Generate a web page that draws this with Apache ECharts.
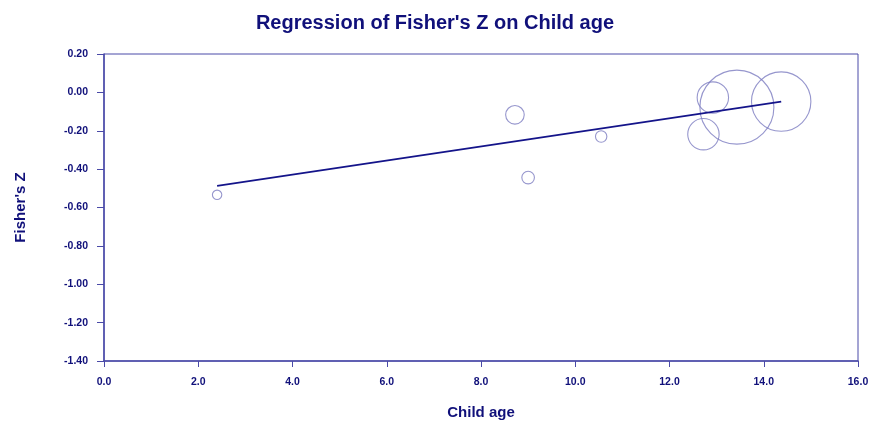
<!DOCTYPE html>
<html>
<head>
<meta charset="utf-8">
<script src="https://cdn.jsdelivr.net/npm/echarts@6/dist/echarts.min.js"></script>
<style>
  html, body { margin: 0; padding: 0; background: #fff; }
  #chart { width: 870px; height: 423px; }
</style>
</head>
<body>
<div id="chart"></div>
<script>
// Study-level observations: moderator (child age), effect size (Fisher's Z), relative weight
const childAge = [2.40, 8.72, 9.00, 10.55, 12.72, 12.92, 13.43, 14.37];
const fisherZ  = [-0.534, -0.117, -0.444, -0.230, -0.218, -0.027, -0.077, -0.048];
const weight   = [9.4, 18.6, 12.6, 11.4, 31.4, 31.4, 74, 59.4];

// Fitted regression line end points
const lineAge = [2.40, 14.37];
const lineZ   = [-0.487, -0.048];

const navy = '#10107a';
const axisBlue = '#4a4aa8';
const font = 'Liberation Sans, Arial, sans-serif';

const points = childAge.map((x, i) => [x, fisherZ[i], weight[i]]);
const fitLine = lineAge.map((x, i) => [x, lineZ[i]]);

const chart = echarts.init(document.getElementById('chart'));
chart.setOption({
  animation: false,
  backgroundColor: '#fff',
  title: {
    text: "Regression of Fisher's Z on Child age",
    left: 'center',
    top: 8,
    textStyle: { color: navy, fontFamily: font, fontWeight: 'bold', fontSize: 20 }
  },
  grid: {
    left: 104, right: 12, top: 54, bottom: 62,
    outerBoundsMode: 'none',
    containLabel: false,
    show: true, borderColor: axisBlue, borderWidth: 1
  },
  xAxis: {
    type: 'value', min: 0, max: 16, interval: 2,
    name: 'Child age', nameLocation: 'middle', nameGap: 44,
    nameTextStyle: { color: navy, fontFamily: font, fontWeight: 'bold', fontSize: 15 },
    axisLine: { show: true, onZero: false, lineStyle: { color: axisBlue, width: 1.5 } },
    axisTick: { show: true, length: 6, inside: false, lineStyle: { color: axisBlue } },
    splitLine: { show: false },
    axisLabel: {
      color: navy, fontFamily: font, fontWeight: 'bold', fontSize: 10.5, margin: 16,
      formatter: v => v.toFixed(1)
    }
  },
  yAxis: {
    type: 'value', min: -1.4, max: 0.2, interval: 0.2,
    name: "Fisher's Z", nameLocation: 'middle', nameGap: 76, nameRotate: 90,
    nameTextStyle: { color: navy, fontFamily: font, fontWeight: 'bold', fontSize: 15 },
    axisLine: { show: true, onZero: false, lineStyle: { color: axisBlue, width: 1.5 } },
    axisTick: { show: true, length: 7, inside: false, lineStyle: { color: axisBlue } },
    splitLine: { show: false },
    axisLabel: {
      color: navy, fontFamily: font, fontWeight: 'bold', fontSize: 10.5, margin: 16,
      formatter: v => v.toFixed(2)
    }
  },
  series: [
    {
      type: 'scatter',
      data: points,
      symbol: 'circle',
      symbolSize: d => d[2],
      itemStyle: { color: 'rgba(0,0,0,0)', borderColor: '#7c7cc0', borderWidth: 1.1 },
      z: 2
    },
    {
      type: 'line',
      data: fitLine,
      symbol: 'none',
      lineStyle: { color: '#14148a', width: 1.7 },
      z: 3
    }
  ]
});
</script>
</body>
</html>
